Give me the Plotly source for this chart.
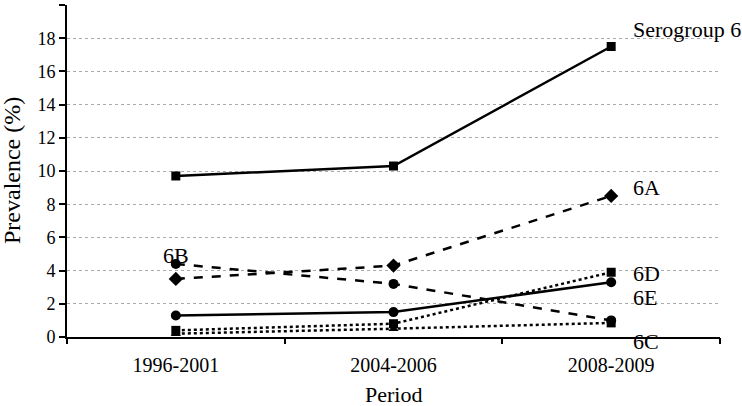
import plotly.graph_objects as go

periods = ["1996-2001", "2004-2006", "2008-2009"]
sero6 = [9.7, 10.3, 17.5]
s6A = [3.5, 4.3, 8.5]
s6B = [4.4, 3.2, 1.0]
s6C = [0.2, 0.5, 0.85]
s6D = [0.4, 0.8, 3.9]
s6E = [1.3, 1.5, 3.3]
y_ticks = [0, 2, 4, 6, 8, 10, 12, 14, 16, 18, 20]

FONT = "Liberation Serif, Times New Roman, serif"
fig = go.Figure()

def add(y, dash, symbol, size):
    fig.add_trace(go.Scatter(
        x=[0, 1, 2], y=y, mode="lines+markers",
        line=dict(color="black", width=2.5, dash=dash),
        marker=dict(symbol=symbol, size=size, color="black"),
        cliponaxis=False, showlegend=False, hoverinfo="skip"))

add(s6C, "dot", ["triangle-up", "triangle-up", "square"], 9)
add(s6D, "dot", "square", 9)
add(s6E, "solid", "circle", 10)
add(s6B, "dash", "circle", 10)
add(s6A, "dash", "diamond", 11)
add(sero6, "solid", "square", 9)

labels = [
    ("Serogroup 6", 2, 18.5, 20, 0),
    ("6A", 2, 9.0, 20, 0),
    ("6D", 2, 3.8, 20, 0),
    ("6E", 2, 2.35, 20, 0),
    ("6C", 2, 0, 20, -4),
]
for t, xi, yv, xs, ys in labels:
    fig.add_annotation(x=xi, y=yv, xref="x", yref="y", text=t, showarrow=False,
                       xanchor="left", yanchor="middle", xshift=xs, yshift=ys,
                       font=dict(family=FONT, size=22, color="black"))
fig.add_annotation(x=0, y=4.9, xref="x", yref="y", text="6B", showarrow=False,
                   xanchor="right", yanchor="middle", xshift=15,
                   font=dict(family=FONT, size=22, color="black"))

# axis titles
fig.add_annotation(x=0.5, y=0, xref="paper", yref="paper", text="Period", showarrow=False,
                   xanchor="center", yanchor="middle", yshift=-57,
                   font=dict(family=FONT, size=22, color="black"))
fig.add_annotation(x=0, y=0.5, xref="paper", yref="paper", text="Prevalence (%)",
                   showarrow=False, textangle=-90, xanchor="center", yanchor="middle",
                   xshift=-55, font=dict(family=FONT, size=24, color="black"))

fig.update_layout(
    width=742, height=406,
    margin=dict(l=67, r=22, t=5, b=69),
    paper_bgcolor="white", plot_bgcolor="white",
    font=dict(family=FONT, size=18, color="black"),
    hovermode=False,
    xaxis=dict(
        range=[-0.5, 2.5], tickvals=[0, 1, 2], ticktext=periods,
        showline=True, linecolor="black", linewidth=2, automargin=False,
        ticks="", showgrid=False, tickfont=dict(size=20), zeroline=False,
        ticklabelstandoff=9,
    ),
    xaxis2=dict(
        overlaying="x", range=[-0.5, 2.5], tickvals=[-0.5, 0.5, 1.5, 2.5],
        showticklabels=False, ticks="outside", ticklen=6, tickwidth=2, tickcolor="black",
        showgrid=False, zeroline=False, showline=False, anchor="y", side="bottom",
        automargin=False,
    ),
    yaxis=dict(
        range=[0, 20], tickvals=y_ticks, showline=True, linecolor="black", linewidth=2,
        ticks="outside", ticklen=6, tickwidth=2, tickcolor="black", automargin=False,
        showgrid=True, gridcolor="#aaaaaa", gridwidth=1, griddash="dot",
        zeroline=False, tickfont=dict(size=18),
    ),
)
fig.add_trace(go.Scatter(x=[None], y=[None], xaxis="x2", yaxis="y", showlegend=False))
fig.write_html("out.html", config={"displayModeBar": False},
               post_script="document.body.style.margin='0';document.body.style.padding='0';")
